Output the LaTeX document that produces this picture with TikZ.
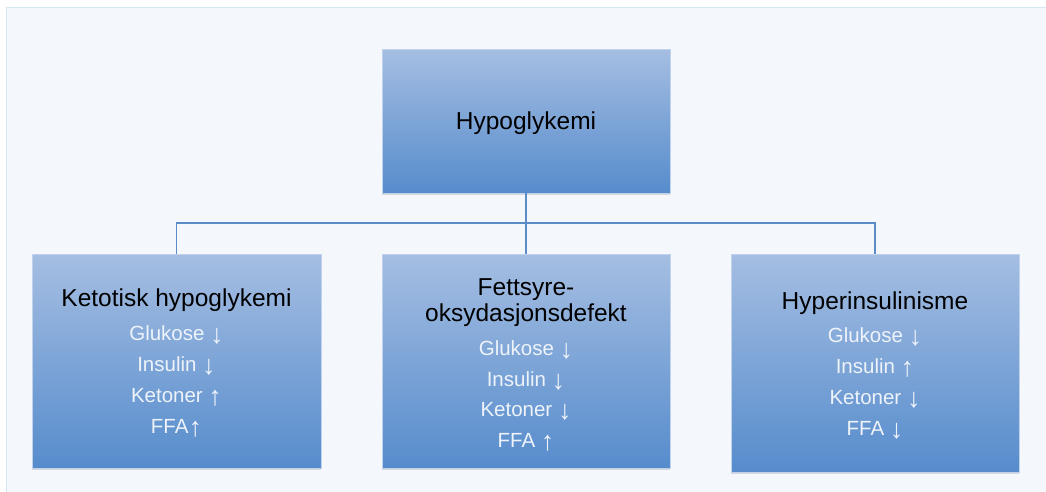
\documentclass[tikz,border=0pt]{standalone}
\usepackage{fontspec}
\setmainfont{Liberation Sans}
\usetikzlibrary{shadows}
\definecolor{panelfill}{RGB}{244,247,251}
\definecolor{panelborder}{RGB}{212,232,244}
\definecolor{boxtop}{RGB}{165,190,226}
\definecolor{boxbot}{RGB}{86,140,204}
\definecolor{linkc}{RGB}{92,140,200}
\definecolor{softwhite}{RGB}{238,243,250}
\newcommand{\arrdn}{\raisebox{-3pt}{\fontsize{27}{27}\selectfont ↓}}
\newcommand{\arrup}{\raisebox{-3pt}{\fontsize{27}{27}\selectfont ↑}}
\tikzset{
  box/.style={rectangle, inner sep=0pt, top color=boxtop, bottom color=boxbot,
    draw=boxtop!70!white, line width=0.4pt,
    drop shadow={shadow xshift=0pt, shadow yshift=-2pt, opacity=0.25, fill=black!50}},
  title/.style={anchor=base, inner sep=0pt, text=black, font=\fontsize{24.5}{27}\selectfont},
  item/.style={anchor=base, inner sep=0pt, text=softwhite, font=\fontsize{20.5}{24}\selectfont},
  link/.style={draw=linkc, line width=1.6pt}
}
\begin{document}
\begin{tikzpicture}[x=1pt,y=-1pt]
\useasboundingbox (0,0) rectangle (1046,491);
\fill[white] (0,0) rectangle (1046,491);
\draw[draw=panelborder, line width=1.5pt, fill=panelfill] (6.5,7.5) rectangle (1060,500);

% boxes
\node[box, minimum width=288pt, minimum height=144pt] (top) at (526,121) {};
\node[box, minimum width=289pt, minimum height=214pt] (left) at (176.5,361) {};
\node[box, minimum width=288pt, minimum height=214pt] (mid) at (526,361) {};
\node[box, minimum width=288pt, minimum height=218pt] (right) at (875,363) {};

% connectors
\coordinate (j) at (526,223);
\draw[link] (top.south) -- (mid.north);
\draw[link] (j) -| (left.north);
\draw[link] (j) -| (right.north);

% texts
\node[title] (t0) at (526,129) {Hypoglykemi};

\node[title] (t1) at (176.5,306.5) {Ketotisk hypoglykemi};
\node[item] (l1) at (176.5,340.5) {Glukose \arrdn};
\node[item] (l2) at (176.5,371.5) {Insulin \arrdn};
\node[item] (l3) at (176.5,402.5) {Ketoner \arrup};
\node[item] (l4) at (176.5,433) {FFA\arrup};

\node[title] (t2a) at (526,295) {Fettsyre-};
\node[title] (t2b) at (526,321) {oksydasjonsdefekt};
\node[item] (m1) at (526,355) {Glukose \arrdn};
\node[item] (m2) at (526,386) {Insulin \arrdn};
\node[item] (m3) at (526,416.5) {Ketoner \arrdn};
\node[item] (m4) at (526,447) {FFA \arrup};

\node[title] (t3) at (875,309) {Hyperinsulinisme};
\node[item] (r1) at (875,342) {Glukose \arrdn};
\node[item] (r2) at (875,373) {Insulin \arrup};
\node[item] (r3) at (875,404) {Ketoner \arrdn};
\node[item] (r4) at (875,435) {FFA \arrdn};
\end{tikzpicture}
\end{document}
